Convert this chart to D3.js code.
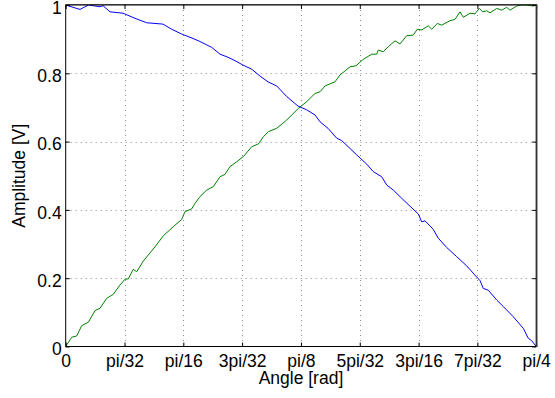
<!DOCTYPE html>
<html lang="en">
<head>
<meta charset="UTF-8">
<title>Amplitude vs angle</title>
<script src="https://cdn.jsdelivr.net/npm/d3@7"></script>
<style>
  body { margin: 0; background: #fff; }
  svg text { font-family: "Liberation Sans", Arial, sans-serif; fill: #000; }
</style>
</head>
<body>
<svg id="chart" width="555" height="398"></svg>
<script>
// tick positions (radians) and their labels
var xTicks = [0, Math.PI/32, Math.PI/16, 3*Math.PI/32, Math.PI/8, 5*Math.PI/32, 3*Math.PI/16, 7*Math.PI/32, Math.PI/4];
var xTickLabels = ["0", "pi/32", "pi/16", "3pi/32", "pi/8", "5pi/32", "3pi/16", "7pi/32", "pi/4"];
var yTicks = [0, 0.2, 0.4, 0.6, 0.8, 1];
var yTickLabels = ["0", "0.2", "0.4", "0.6", "0.8", "1"];

// blue trace
var blueAngle = [0, 0.0239, 0.0377, 0.0573, 0.0623, 0.0740, 0.0957, 0.1157, 0.1352, 0.1624, 0.1769, 0.1936,
  0.2125, 0.2242, 0.2437, 0.2576, 0.2709, 0.2826, 0.2960, 0.3105, 0.3243, 0.3377, 0.3522, 0.3689, 0.3878,
  0.4023, 0.4162, 0.4245, 0.4379, 0.4524, 0.4607, 0.4746, 0.4858, 0.5025, 0.5135, 0.5275, 0.5358, 0.5469,
  0.5609, 0.5747, 0.5886, 0.5943, 0.5998, 0.6136, 0.6220, 0.6360, 0.6527, 0.6694, 0.6832, 0.6916, 0.6971,
  0.7054, 0.7195, 0.7305, 0.7472, 0.7639, 0.7722, 0.7779, 0.7854];
var blueAmp = [1.0, 0.987, 1.0, 0.995, 0.998, 0.98, 0.976, 0.961, 0.948, 0.944, 0.929, 0.915,
  0.902, 0.893, 0.876, 0.856, 0.847, 0.837, 0.824, 0.812, 0.792, 0.775, 0.763, 0.732, 0.704,
  0.693, 0.678, 0.658, 0.639, 0.610, 0.603, 0.580, 0.561, 0.534, 0.512, 0.497, 0.473, 0.458,
  0.434, 0.411, 0.388, 0.365, 0.368, 0.343, 0.317, 0.290, 0.263, 0.236, 0.209, 0.193, 0.170,
  0.165, 0.136, 0.117, 0.087, 0.053, 0.024, 0.017, 0.0];

// green trace
var greenAngle = [0, 0.0100, 0.0184, 0.0267, 0.0377, 0.0489, 0.0573, 0.0684, 0.0795, 0.0906, 0.0990, 0.1045,
  0.1128, 0.1185, 0.1295, 0.1491, 0.1629, 0.1796, 0.1936, 0.1992, 0.2103, 0.2158, 0.2242, 0.2354, 0.2464,
  0.2576, 0.2659, 0.2743, 0.2855, 0.2965, 0.3105, 0.3215, 0.3299, 0.3382, 0.3522, 0.3689, 0.3773, 0.3883,
  0.4023, 0.4162, 0.4245, 0.4329, 0.4495, 0.4579, 0.4746, 0.4846, 0.4968, 0.5108, 0.5192, 0.5218, 0.5302,
  0.5385, 0.5497, 0.5581, 0.5692, 0.5803, 0.5869, 0.5943, 0.6053, 0.6110, 0.6203, 0.6277, 0.6415, 0.6499,
  0.6582, 0.6637, 0.6749, 0.6832, 0.6904, 0.6961, 0.7028, 0.7083, 0.7195, 0.7278, 0.7362, 0.7417, 0.7529,
  0.7612, 0.7696, 0.7806, 0.7854];
var greenAmp = [0, 0.027, 0.031, 0.061, 0.071, 0.105, 0.112, 0.141, 0.153, 0.180, 0.197, 0.198,
  0.226, 0.219, 0.250, 0.292, 0.324, 0.351, 0.372, 0.395, 0.403, 0.419, 0.439, 0.458, 0.468,
  0.497, 0.504, 0.527, 0.541, 0.556, 0.585, 0.593, 0.614, 0.629, 0.639, 0.663, 0.678, 0.697,
  0.717, 0.741, 0.746, 0.763, 0.775, 0.795, 0.819, 0.822, 0.841, 0.856, 0.856, 0.868, 0.863,
  0.878, 0.895, 0.886, 0.910, 0.912, 0.929, 0.927, 0.939, 0.929, 0.946, 0.941, 0.954, 0.958,
  0.980, 0.964, 0.976, 0.974, 0.990, 0.980, 0.983, 0.977, 0.990, 0.985, 0.993, 0.985, 0.997,
  1.0, 1.0, 0.997, 1.0];

var plotLeft = 65.7, plotTop = 5, plotRight = 536.2, plotBottom = 346.5;
var fontSize = 17.5;

var svg = d3.select("#chart");

var x = d3.scaleLinear().domain([0, Math.PI / 4]).range([plotLeft, plotRight]);
var y = d3.scaleLinear().domain([0, 1]).range([plotBottom, plotTop]);

// dotted grid
var grid = svg.append("g").attr("stroke", "#8c8c8c").attr("stroke-width", 1)
  .attr("stroke-dasharray", "1,4");
grid.selectAll(".gx").data(xTicks.slice(1, -1)).enter().append("line")
  .attr("x1", function (d) { return Math.round(x(d)) + 0.5; })
  .attr("x2", function (d) { return Math.round(x(d)) + 0.5; })
  .attr("y1", plotTop).attr("y2", plotBottom);
grid.selectAll(".gy").data(yTicks.slice(1, -1)).enter().append("line")
  .attr("y1", function (d) { return Math.round(y(d)) + 0.5; })
  .attr("y2", function (d) { return Math.round(y(d)) + 0.5; })
  .attr("x1", plotLeft).attr("x2", plotRight);

// traces
svg.append("clipPath").attr("id", "plotclip").append("rect")
  .attr("x", plotLeft).attr("y", plotTop - 1)
  .attr("width", plotRight - plotLeft).attr("height", plotBottom - plotTop + 1);

function trace(xs, ys, color) {
  var pts = xs.map(function (a, i) { return [a, ys[i]]; });
  var line = d3.line()
    .x(function (d) { return x(d[0]); })
    .y(function (d) { return y(d[1]); });
  svg.append("path").datum(pts)
    .attr("d", line)
    .attr("fill", "none")
    .attr("stroke", color)
    .attr("stroke-width", 1)
    .attr("clip-path", "url(#plotclip)");
}
trace(blueAngle, blueAmp, "#0000ff");
trace(greenAngle, greenAmp, "#008000");

// axes with inward ticks, like the original
var xAxis = d3.axisBottom(x).tickValues(xTicks)
  .tickFormat(function (d, i) { return xTickLabels[i]; })
  .tickSizeInner(-4).tickSizeOuter(0).tickPadding(7.6);
var gx = svg.append("g").attr("transform", "translate(0," + plotBottom + ")").call(xAxis);
gx.attr("font-size", fontSize);

var yAxis = d3.axisLeft(y).tickValues(yTicks)
  .tickFormat(function (d, i) { return yTickLabels[i]; })
  .tickSizeInner(-4).tickSizeOuter(0).tickPadding(4);
var gy = svg.append("g").attr("transform", "translate(" + plotLeft + ",0)").call(yAxis);
gy.attr("font-size", fontSize);
gy.selectAll("text").attr("dy", "0.47em");

svg.selectAll(".domain").remove();
svg.selectAll(".tick line").attr("stroke", "#000");

// ticks on top and right edges
var gxTop = svg.append("g").attr("transform", "translate(0," + plotTop + ")")
  .call(d3.axisTop(x).tickValues(xTicks).tickSizeInner(-4).tickSizeOuter(0).tickFormat(""));
var gyRight = svg.append("g").attr("transform", "translate(" + plotRight + ",0)")
  .call(d3.axisRight(y).tickValues(yTicks).tickSizeInner(-4).tickSizeOuter(0).tickFormat(""));
gxTop.select(".domain").remove();
gyRight.select(".domain").remove();
gxTop.selectAll("line").attr("stroke", "#000");
gyRight.selectAll("line").attr("stroke", "#000");

// box
svg.append("rect")
  .attr("x", plotLeft).attr("y", plotTop)
  .attr("width", plotRight - plotLeft).attr("height", plotBottom - plotTop)
  .attr("fill", "none").attr("stroke", "#000").attr("stroke-width", 1);
svg.append("line").attr("x1", plotRight + 0.5).attr("x2", plotRight + 0.5)
  .attr("y1", plotTop).attr("y2", plotBottom + 0.5)
  .attr("stroke", "#333").attr("stroke-width", 1.5);
svg.append("line").attr("x1", plotLeft).attr("x2", plotRight + 1)
  .attr("y1", plotTop - 0.5).attr("y2", plotTop - 0.5)
  .attr("stroke", "#333").attr("stroke-width", 1);

// axis titles
svg.append("text")
  .attr("x", (plotLeft + plotRight) / 2).attr("y", 384)
  .attr("text-anchor", "middle").attr("font-size", fontSize)
  .text("Angle [rad]");
svg.append("text")
  .attr("transform", "translate(25," + ((plotTop + plotBottom) / 2) + ") rotate(-90)")
  .attr("text-anchor", "middle").attr("font-size", fontSize)
  .text("Amplitude [V]");
</script>
</body>
</html>
